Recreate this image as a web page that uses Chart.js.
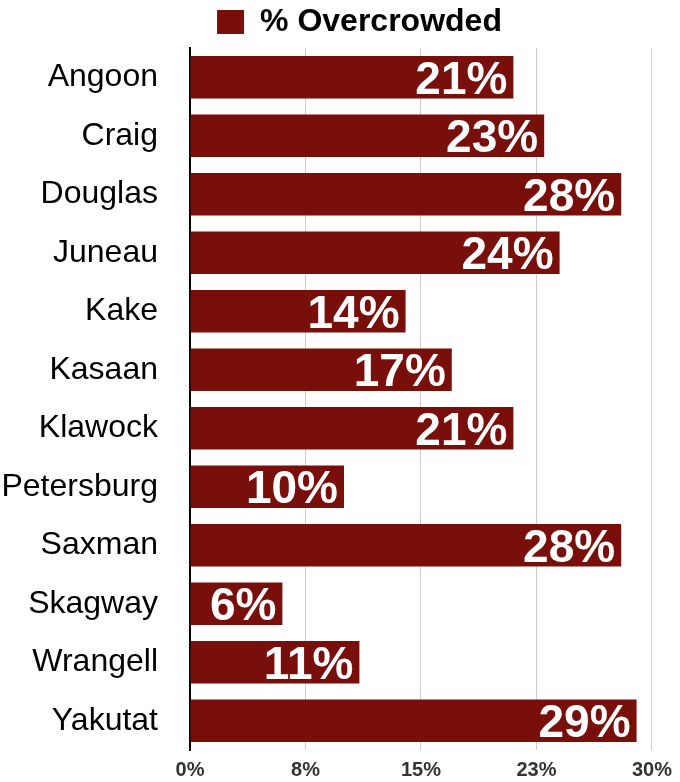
<!DOCTYPE html>
<html>
<head>
<meta charset="utf-8">
<script src="https://cdn.jsdelivr.net/npm/chart.js@4/dist/chart.umd.min.js"></script>
<style>
    html, body { margin: 0; padding: 0; background: #fff; }
</style>
</head>
<body>
<canvas id="overcrowded" width="680" height="782"></canvas>
<script>
const bar_color = "#780F0B";  //dark red
const grid_color = "#cccccc";
const font_family = "'Liberation Sans', Arial, sans-serif";

const communities = ['Angoon', 'Craig', 'Douglas', 'Juneau', 'Kake', 'Kasaan',
    'Klawock', 'Petersburg', 'Saxman', 'Skagway', 'Wrangell', 'Yakutat'];
const pct_overcrowded = [21, 23, 28, 24, 14, 17, 21, 10, 28, 6, 11, 29];
const x_ticks = [0, 7.5, 15, 22.5, 30];

// write the value inside the end of each bar
const bar_labels = {
    id: 'barLabels',
    afterDatasetsDraw(chart) {
        const ctx = chart.ctx;
        const size = 46;
        ctx.save();
        ctx.font = `bold ${size}px ${font_family}`;
        ctx.fillStyle = '#ffffff';
        ctx.textAlign = 'right';
        ctx.textBaseline = 'alphabetic';
        chart.getDatasetMeta(0).data.forEach((bar, i) => {
            const value = chart.data.datasets[0].data[i];
            ctx.fillText(value + '%', bar.x - 6, bar.y + size * 0.358);
        });
        ctx.restore();
    }
};

// centre the legend over the plot area rather than the whole canvas
const legend_shift = {
    id: 'legendShift',
    afterLayout(chart) {
        chart.legend.left = 67;
        chart.legend.right = chart.chartArea.right;
    }
};

new Chart(document.getElementById('overcrowded'), {
    type: 'bar',
    data: {
        labels: communities,
        datasets: [{
            label: '% Overcrowded',
            data: pct_overcrowded,
            backgroundColor: bar_color,
            borderWidth: 0,
            barPercentage: 0.73,
            categoryPercentage: 1,
        }]
    },
    options: {
        indexAxis: 'y',
        responsive: false,
        animation: false,
        layout: {
            padding: { left: 2, right: 26, top: 4, bottom: 0 }
        },
        plugins: {
            legend: {
                labels: {
                    color: '#000',
                    boxWidth: 27,
                    boxHeight: 24,
                    padding: 2,
                    font: { family: font_family, size: 32, weight: 'bold' }
                }
            },
            tooltip: { enabled: false },
        },
        scales: {
            x: {
                min: 0,
                max: 30,
                afterBuildTicks: (scale) => {
                    scale.ticks = x_ticks.map(v => ({ value: v }));
                },
                afterFit: (scale) => { scale.height = 32; },
                ticks: {
                    color: '#333',
                    padding: 8,
                    font: { family: font_family, size: 20, weight: 'bold' },
                    callback: (value) => Math.round(value) + '%'
                },
                grid: {
                    color: grid_color,
                    drawTicks: false
                },
                border: { display: false }
            },
            y: {
                // keep the tick padding out of the plot's top/bottom and width
                afterFit: (scale) => {
                    scale.paddingTop = 0;
                    scale.paddingBottom = 0;
                    scale.width = 188;
                },
                ticks: {
                    color: '#000',
                    padding: 32,
                    font: { family: font_family, size: 32 }
                },
                grid: { display: false, drawTicks: false },
                border: { color: '#000', width: 2 }
            }
        }
    },
    plugins: [bar_labels, legend_shift]
});
</script>
</body>
</html>
